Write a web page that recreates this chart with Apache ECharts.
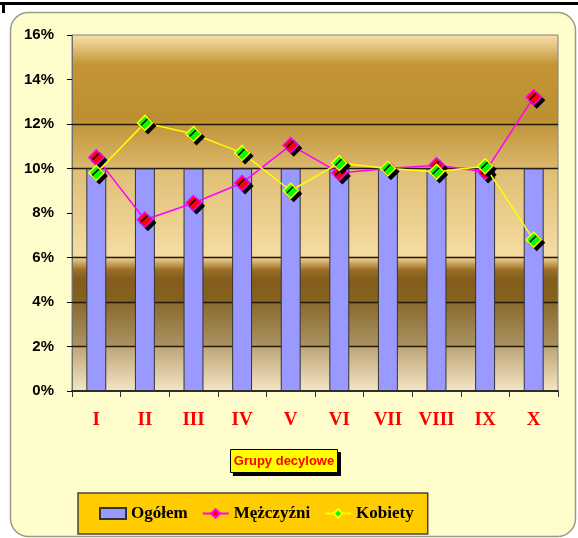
<!DOCTYPE html>
<html>
<head>
<meta charset="utf-8">
<script src="https://cdn.jsdelivr.net/npm/echarts@6/dist/echarts.min.js"></script>
<style>
html,body{margin:0;padding:0;background:#fff;}
#c{width:578px;height:538px;}
</style>
</head>
<body>
<div id="c"></div>
<script>
const categories = ['I','II','III','IV','V','VI','VII','VIII','IX','X'];
const ogolem = [10,10,10,10,10,10,10,10,10,10];
const mezczyzni = [10.5,7.7,8.45,9.35,11.05,9.8,10.0,10.15,9.85,13.2];
const kobiety = [9.8,12.05,11.55,10.7,9.0,10.25,10.0,9.85,10.1,6.8];
const yTicks = [0,2,4,6,8,10,12,14,16];
const gridLines = [2,4,6,10,12];

const chart = echarts.init(document.getElementById('c'), null, {renderer:'canvas'});

const plotBg = {
  type:'linear', x:0, y:0, x2:0, y2:1,
  colorStops:[
    {offset:0, color:'#F8E2AA'},
    {offset:0.037, color:'#E2C07A'},
    {offset:0.084, color:'#C39535'},
    {offset:0.239, color:'#BC8F30'},
    {offset:0.25, color:'#C0953A'},
    {offset:0.374, color:'#DCB86C'},
    {offset:0.379, color:'#E0BE75'},
    {offset:0.618, color:'#F4DCA2'},
    {offset:0.626, color:'#EFD090'},
    {offset:0.66, color:'#9A6E25'},
    {offset:0.688, color:'#825C1C'},
    {offset:0.747, color:'#86621E'},
    {offset:0.753, color:'#8A6A2E'},
    {offset:0.871, color:'#AA9262'},
    {offset:0.876, color:'#BEA678'},
    {offset:1, color:'#F4E6C6'}
  ]
};

const option = {
  animation:false,
  backgroundColor:'#ffffff',
  graphic:[
    {type:'rect', z:-10, shape:{x:0, y:2, width:578, height:3}, style:{fill:'#000'}},
    {type:'rect', z:-10, shape:{x:2, y:2, width:3, height:11}, style:{fill:'#000'}},
    {type:'rect', z:-10, shape:{x:10.5, y:12.5, width:565, height:524, r:18}, style:{fill:'#FFFDCC', stroke:'#9A9A88', lineWidth:1.5}},
    {type:'rect', z:10, shape:{x:233, y:452, width:108, height:24}, style:{fill:'#000'}},
    {type:'rect', z:11, shape:{x:230.5, y:449.5, width:107, height:23}, style:{fill:'#FFFF00', stroke:'#000', lineWidth:1}},
    {type:'text', z:12, x:284, y:461, style:{text:'Grupy decylowe', fill:'#FF0000', font:'bold 13px "Liberation Sans", Arial, sans-serif', align:'center', verticalAlign:'middle'}}
  ],
  grid:{left:72, right:20, top:35, bottom:147, show:true, backgroundColor:plotBg, borderColor:'#808080', borderWidth:1},
  legend:{
    left:78, top:493,
    backgroundColor:'#FFCC00', borderColor:'#444', borderWidth:1.5,
    padding:[12,14,12,21],
    itemGap:14, itemWidth:26, itemHeight:11,
    textStyle:{fontFamily:'"Liberation Serif", "Times New Roman", serif', fontWeight:'bold', fontSize:17, color:'#000'},
    data:[
      {name:'Ogółem', icon:'rect'},
      {name:'Mężczyźni'},
      {name:'Kobiety'}
    ]
  },
  xAxis:{
    type:'category', data:categories,
    boundaryGap:true,
    axisLine:{show:true, lineStyle:{color:'#000', width:1.5}},
    axisTick:{show:true, alignWithLabel:false, length:6, lineStyle:{color:'#333'}},
    axisLabel:{margin:20, color:'#FF0000', fontFamily:'"Liberation Serif", "Times New Roman", serif', fontWeight:'bold', fontSize:19},
    splitLine:{show:false}
  },
  yAxis:{
    type:'value', min:0, max:16, interval:2,
    axisLine:{show:true, lineStyle:{color:'#707070', width:1}},
    axisTick:{show:true, length:5, lineStyle:{color:'#000'}},
    axisLabel:{margin:18, color:'#000', fontFamily:'"Liberation Sans", Arial, sans-serif', fontWeight:'bold', fontSize:15,
      formatter:function(v){ return yTicks.indexOf(v) >= 0 ? v + '%' : ''; }},
    splitLine:{show:false}
  },
  series:[
    {
      name:'Ogółem', type:'bar', data:ogolem, barWidth:'41%', z:2,
      itemStyle:{color:'#9999FF', borderColor:'#333', borderWidth:1},
      markLine:{
        silent:true, z:1, symbol:['none','none'], label:{show:false},
        lineStyle:{color:'#241806', width:1.3, type:'solid'},
        emphasis:{disabled:true},
        data:gridLines.map(v => ({yAxis:v}))
      }
    },
    {
      name:'Mężczyźni', type:'line', data:mezczyzni, z:3,
      symbol:'diamond', symbolSize:15,
      lineStyle:{color:'#FF00FF', width:1.5},
      itemStyle:{color:'#FF0000', borderColor:'#FF00FF', borderWidth:1.5, shadowColor:'#000', shadowOffsetX:3, shadowOffsetY:3, shadowBlur:0}
    },
    {
      name:'Kobiety', type:'line', data:kobiety, z:4,
      symbol:'diamond', symbolSize:15,
      lineStyle:{color:'#FFFF00', width:1.5},
      itemStyle:{color:'#00FF00', borderColor:'#FFFF00', borderWidth:1.5, shadowColor:'#000', shadowOffsetX:3, shadowOffsetY:3, shadowBlur:0}
    }
  ]
};
chart.setOption(option);
</script>
</body>
</html>
